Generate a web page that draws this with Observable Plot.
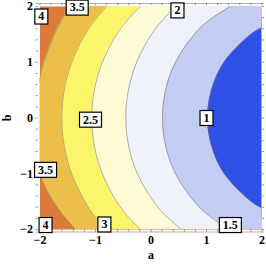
<!DOCTYPE html>
<html>
<head>
<meta charset="utf-8">
<script src="https://cdn.jsdelivr.net/npm/d3@7"></script>
<script src="https://cdn.jsdelivr.net/npm/@observablehq/plot@0.6"></script>
<style>
  html, body { margin: 0; padding: 0; background: #fff; }
</style>
</head>
<body>
<div id="chart"></div>
<script>
// Axis ranges and ticks
const aDomain = [-2, 2];
const bDomain = [-2, 2];
const ticks = [-2, -1, 0, 1, 2];
const minorTicks = [-2, -1.8, -1.6, -1.4, -1.2, -1, -0.8, -0.6, -0.4, -0.2, 0, 0.2, 0.4, 0.6, 0.8, 1, 1.2, 1.4, 1.6, 1.8, 2];

// Contour lines, as [a, b] points (sorted by b)
const contour35 = [[-1.36,-2],[-1.58,-1.75],[-1.76,-1.5],[-1.90,-1.25],[-2.0,-1.02],[-2.12,-0.6],[-2.13,-0.1],[-2.06,0.4],[-2.0,0.73],[-1.93,1.0],[-1.74,1.5],[-1.61,1.75],[-1.45,2]];
const contour3  = [[-0.825,-2],[-1.03,-1.75],[-1.19,-1.5],[-1.43,-1],[-1.563,-0.5],[-1.607,0],[-1.563,0.5],[-1.428,1],[-1.186,1.5],[-1.015,1.75],[-0.80,2]];
const contour25 = [[-0.195,-2],[-0.432,-1.75],[-0.618,-1.5],[-0.877,-1],[-1.021,-0.5],[-1.067,0],[-1.021,0.5],[-0.877,1],[-0.618,1.5],[-0.432,1.75],[-0.195,2]];
const contour2  = [[0.55,-2],[0.263,-1.75],[0.048,-1.5],[-0.245,-1],[-0.403,-0.5],[-0.454,0],[-0.407,0.5],[-0.259,1],[0.008,1.5],[0.202,1.75],[0.45,2]];
const contour15 = [[1.40,-2],[1.04,-1.75],[0.78,-1.5],[0.442,-1],[0.263,-0.5],[0.207,0],[0.263,0.5],[0.442,1],[0.78,1.5],[1.043,1.75],[1.427,2]];
const contour1  = [[2.52,-1.8],[2.32,-1.75],[2.0,-1.62],[1.804,-1.5],[1.319,-1],[1.091,-0.5],[1.02,0],[1.091,0.5],[1.319,1],[1.804,1.5],[2.0,1.62],[2.32,1.75],[2.52,1.8]];

const contours = [contour35, contour3, contour25, contour2, contour15, contour1];
// fill colour of the band on the low (right) side of each contour
const bandColors = ["#ECC048", "#FCF56C", "#FDFAD4", "#EFF1FB", "#C3CDF3", "#2F50E6"];
const topBandColor = "#DC7A3A";

// Contour labels
const labelText = ["4", "3.5", "2", "2.5", "1", "3.5", "4", "3", "1.5"];
const labelA = [-1.976, -1.33, 0.477, -1.09, 1.0, -1.90, -1.90, -0.84, 1.43];
const labelB = [1.82, 1.98, 1.93, -0.03, 0.0, -0.93, -1.92, -1.91, -1.92];
const labels = labelText.map((t, i) => ({t, a: labelA[i], b: labelB[i]}));

function textWidth(s) {
  let w = 0;
  for (const ch of s) w += ch === "." ? 3 : 6;
  return w;
}
const fmt = d3.format("~f");
const tickLenA = 0.04, tickLenB = 0.04;

const marks = [Plot.frame({fill: topBandColor, stroke: null})];
contours.forEach((pts, k) => {
  marks.push(Plot.areaX(pts, {
    y: d => d[1], x1: d => d[0], x2: () => aDomain[1],
    fill: bandColors[k], curve: "catmull-rom", clip: true
  }));
});
contours.forEach(pts => {
  marks.push(Plot.line(pts, {
    x: d => d[0], y: d => d[1], curve: "catmull-rom",
    stroke: "#777", strokeOpacity: 0.8, strokeWidth: 0.7, clip: true
  }));
});
// frame rules top / bottom
marks.push(Plot.ruleY([bDomain[1]], {dy: -3, insetLeft: -4, insetRight: -2.5, stroke: "#999", strokeWidth: 0.8}));
marks.push(Plot.ruleY([bDomain[0]], {dy: 2.5, insetLeft: -4, insetRight: -2.5, stroke: "#999", strokeWidth: 0.8}));
// small frame ticks on all sides
marks.push(Plot.ruleX(minorTicks, {x: d => d, y1: bDomain[0], y2: bDomain[0] + tickLenB, dy: 2.5, stroke: "#777", strokeWidth: 0.8}));
marks.push(Plot.ruleX(minorTicks, {x: d => d, y1: bDomain[1] - tickLenB, y2: bDomain[1], dy: -3, stroke: "#777", strokeWidth: 0.8}));
marks.push(Plot.ruleY(minorTicks, {y: d => d, x1: aDomain[0], x2: aDomain[0] + tickLenA, dx: -4, stroke: "#777", strokeWidth: 0.8}));
marks.push(Plot.ruleY(minorTicks, {y: d => d, x1: aDomain[1] - tickLenA, x2: aDomain[1], dx: 2.5, stroke: "#777", strokeWidth: 0.8}));
// boxed labels
marks.push(Plot.text(labels, {
  x: "a", y: "b", text: "t", fill: "black", fontSize: 12, fontWeight: "bold",
  render(index, scales, values, dimensions, context, next) {
    const g = next(index, scales, values, dimensions, context);
    const ns = "http://www.w3.org/2000/svg";
    const boxes = document.createElementNS(ns, "g");
    for (const i of index) {
      const w = textWidth(labels[i].t) + 7;
      const h = 15;
      const r = document.createElementNS(ns, "rect");
      r.setAttribute("x", values.x[i] - w / 2);
      r.setAttribute("y", values.y[i] - h / 2);
      r.setAttribute("width", w);
      r.setAttribute("height", h);
      r.setAttribute("fill", "white");
      r.setAttribute("stroke", "black");
      r.setAttribute("stroke-width", 1.2);
      boxes.appendChild(r);
    }
    g.insertBefore(boxes, g.firstChild);
    return g;
  }
}));
marks.push(Plot.axisX(ticks, {anchor: "bottom", tickSize: 0, tickPadding: 6, tickFormat: fmt, label: "a", labelAnchor: "center", labelArrow: "none", labelOffset: 29}));
marks.push(Plot.axisY(ticks, {anchor: "left", tickSize: 0, tickPadding: 7, tickFormat: fmt, label: "b", labelAnchor: "center", labelArrow: "none", labelOffset: 38}));

const chart = Plot.plot({
  width: 266,
  height: 265,
  marginLeft: 39.5,
  marginRight: 4.5,
  marginTop: 6,
  marginBottom: 36,
  x: {domain: aDomain},
  y: {domain: bDomain},
  style: {fontFamily: "'Liberation Serif', serif", fontSize: "12px", fontWeight: "bold", background: "white", overflow: "visible"},
  marks
});
document.getElementById("chart").appendChild(chart);
</script>
</body>
</html>
